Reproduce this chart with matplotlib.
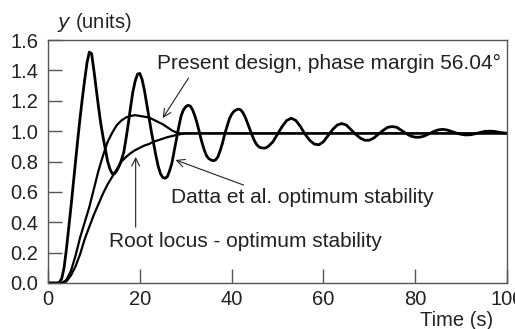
import matplotlib
matplotlib.use("Agg")
import matplotlib.pyplot as plt

plt.rcParams['font.family'] = ['Liberation Sans', 'DejaVu Sans']

# Datta et al. optimum stability (read every 0.5 s up to 48 s, then every 1 s)
t_datta = [0, 1, 2, 2.5, 3, 3.5, 4, 4.5, 5, 5.5, 6, 6.5, 7, 7.5, 8, 8.5, 9, 9.5,
           10, 10.5, 11, 11.5, 12, 12.5, 13, 13.5, 14, 14.5, 15, 15.5, 16, 16.5,
           17, 17.5, 18, 18.5, 19, 19.5, 20, 20.5, 21, 21.5, 22, 22.5, 23, 23.5,
           24, 24.5, 25, 25.5, 26, 26.5, 27, 27.5, 28, 28.5, 29, 29.5, 30, 30.5,
           31, 31.5, 32, 32.5, 33, 33.5, 34, 34.5, 35, 35.5, 36, 36.5, 37, 37.5,
           38, 38.5, 39, 39.5, 40, 40.5, 41, 41.5, 42, 42.5, 43, 43.5, 44, 44.5,
           45, 45.5, 46, 46.5, 47, 47.5, 48, 49, 50, 51, 52, 53, 54, 55, 56, 57,
           58, 59, 60, 61, 62, 63, 64, 65, 66, 67, 68, 69, 70, 71, 72, 73, 74, 75,
           76, 77, 78, 79, 80, 81, 82, 83, 84, 85, 86, 87, 88, 89, 90, 91, 92, 93,
           94, 95, 96, 97, 98, 99, 100]
datta = [0, 0, 0, 0.005, 0.03, 0.1, 0.22, 0.36, 0.50, 0.65, 0.80, 0.95, 1.09, 1.22,
         1.34, 1.45, 1.52, 1.51,
         1.40, 1.28, 1.16, 1.05, 0.96, 0.88, 0.80, 0.75, 0.72, 0.72, 0.74, 0.77, 0.81, 0.86,
         0.95, 1.05, 1.16, 1.26, 1.33, 1.375, 1.38, 1.34, 1.27, 1.18, 1.09, 1.00, 0.92, 0.84,
         0.77, 0.72, 0.695, 0.69, 0.70, 0.74, 0.79, 0.87, 0.95, 1.03, 1.10, 1.14, 1.16, 1.17,
         1.165, 1.14, 1.10, 1.05, 0.99, 0.93, 0.88, 0.84, 0.82, 0.81, 0.805, 0.81, 0.83, 0.87,
         0.92, 0.98, 1.03, 1.08, 1.11, 1.13, 1.14, 1.145, 1.14, 1.12, 1.09, 1.05, 1.01, 0.97,
         0.935, 0.91, 0.895, 0.89, 0.888, 0.89, 0.90, 0.93, 0.98, 1.03, 1.07, 1.085, 1.07, 1.03, 0.98, 0.94,
         0.915, 0.91, 0.93, 0.97, 1.01, 1.04, 1.05, 1.04, 1.01, 0.98, 0.955, 0.94, 0.94, 0.955, 0.98, 1.005, 1.025, 1.03,
         1.025, 1.005, 0.985, 0.968, 0.96, 0.96, 0.968, 0.982, 0.997, 1.008, 1.012, 1.007, 0.997, 0.987, 0.979, 0.975, 0.976, 0.982,
         0.99, 0.997, 1.0, 0.999, 0.994, 0.989, 0.986]

# Present design, phase margin 56.04 deg
t_present = list(range(0, 31)) + [100]
present = [0, 0, 0, 0, 0.02, 0.08, 0.18, 0.30, 0.40, 0.50,
           0.62, 0.74, 0.84, 0.93, 0.99, 1.04, 1.07, 1.09, 1.10, 1.105,
           1.10, 1.095, 1.09, 1.075, 1.06, 1.045, 1.025, 1.005, 0.99, 0.985,
           0.985, 0.985]

# Root locus - optimum stability
t_root = list(range(0, 31)) + [100]
root = [0, 0, 0, 0, 0.01, 0.05, 0.11, 0.19, 0.29, 0.37,
        0.45, 0.52, 0.59, 0.65, 0.70, 0.75, 0.80, 0.83, 0.855, 0.875,
        0.89, 0.905, 0.915, 0.93, 0.94, 0.95, 0.96, 0.967, 0.975, 0.981,
        0.985, 0.985]

x_ticks = [0, 20, 40, 60, 80, 100]
y_ticks = [0.0, 0.2, 0.4, 0.6, 0.8, 1.0, 1.2, 1.4, 1.6]

fig = plt.figure(figsize=(5.15, 3.29), dpi=100)
ax = fig.add_axes([48/515, 46/329, (507-48)/515, (283-40)/329])

ax.plot(t_datta, datta, color='black', lw=2.0)
ax.plot(t_present, present, color='black', lw=1.6)
ax.plot(t_root, root, color='black', lw=1.6)

ax.set_xlim(0, 100)
ax.set_ylim(0, 1.6)
ax.set_xticks(x_ticks)
ax.set_yticks(y_ticks)
ax.set_xticklabels([str(v) for v in x_ticks])
ax.set_yticklabels([f"{v:.1f}" for v in y_ticks])
ax.tick_params(direction='in', length=10, width=1, color='#555555',
               labelsize=14.5, labelcolor='#222222')
ax.tick_params(axis='x', pad=5)
ax.tick_params(axis='y', pad=7)
for s in ax.spines.values():
    s.set_color('#555555')
    s.set_linewidth(1.0)

fs = 15
tc = '#222222'
ax.text(23.7, 1.447, "Present design, phase margin 56.04\u00b0", fontsize=fs,
        va='center', ha='left', color=tc)
ax.text(26.7, 0.56, "Datta et al. optimum stability", fontsize=fs,
        va='center', ha='left', color=tc)
ax.text(13.3, 0.276, "Root locus - optimum stability", fontsize=fs,
        va='center', ha='left', color=tc)

arrow = dict(arrowstyle='->', color='#222222', lw=0.8, mutation_scale=14,
             shrinkA=0, shrinkB=0)
ax.annotate('', xy=(25.0, 1.086), xytext=(30.6, 1.349), arrowprops=arrow)
ax.annotate('', xy=(27.8, 0.81), xytext=(42.6, 0.645), arrowprops=arrow)
ax.annotate('', xy=(19.1, 0.83), xytext=(19.1, 0.368), arrowprops=arrow)

fig.text(57/515, 1 - 22/329, "$y$ (units)", fontsize=14.5, va='center', ha='left',
         color=tc)
fig.text(493/515, 1 - 320/329, "Time (s)", fontsize=14.5, va='center', ha='right',
         color=tc)

fig.savefig("out.png", dpi=100)
